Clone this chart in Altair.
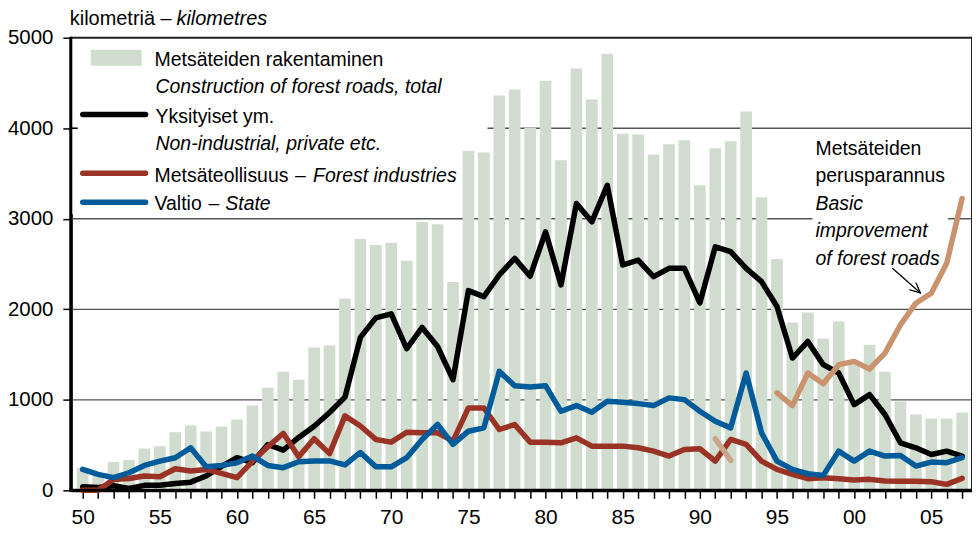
import altair as alt
import pandas as pd

years = list(range(1950, 2008))
total = [250, 190, 312, 334, 462, 488, 642, 716, 650, 705,
         782, 936, 1134, 1311, 1222, 1578, 1600, 2118, 2775, 2709,
         2735, 2536, 2963, 2940, 2302, 3748, 3733, 4361, 4427, 4005,
         4526, 3645, 4659, 4317, 4824, 3939, 3930, 3711, 3822, 3866,
         3370, 3778, 3855, 4185, 3238, 2555, 1854, 1964, 1677, 1865,
         1400, 1608, 1310, 980, 837, 793, 793, 859]
private = [40, 30, 50, 20, 55, 55, 75, 90, 158, 264,
           360, 305, 506, 444, 584, 708, 859, 1030, 1690, 1905,
           1949, 1564, 1799, 1589, 1222, 2206, 2140, 2379, 2563, 2365,
           2856, 2269, 3168, 2966, 3370, 2489, 2544, 2360, 2452, 2452,
           2070, 2690, 2636, 2452, 2305, 2030, 1461, 1645, 1388, 1296,
           947, 1057, 837, 525, 470, 396, 433, 378]
industry = [0, 0, 120, 130, 158, 150, 238, 213, 231, 187,
            140, 320, 480, 630, 370, 570, 405, 822, 710, 562,
            532, 642, 635, 635, 543, 910, 910, 672, 727, 532,
            532, 525, 580, 488, 488, 488, 470, 433, 378, 452,
            459, 323, 562, 507, 323, 231, 176, 128, 139, 128,
            114, 121, 103, 100, 100, 95, 66, 132]
state = [231, 176, 140, 194, 275, 323, 360, 470, 260, 275,
         305, 378, 275, 250, 315, 325, 325, 280, 418, 260,
         260, 360, 562, 727, 507, 653, 690, 1314, 1156, 1142,
         1156, 873, 936, 862, 983, 972, 958, 936, 1021, 1002,
         873, 763, 690, 1296, 635, 323, 231, 183, 165, 433,
         323, 433, 378, 385, 268, 312, 305, 360]
basic_years = list(range(1995, 2008))
basic = [1076, 936, 1296, 1178, 1388, 1424, 1340, 1516, 1828, 2067, 2177, 2508, 3224]
basic_early_years = [1991, 1992]
basic_early = [570, 330]
grid_values = [1000, 2000, 3000, 4000]
y_ticks = [0, 1000, 2000, 3000, 4000, 5000]
arrow_years = [2002.5, 2004.3]
arrow_km = [2450, 2180]
head_years = [2004.01, 2004.3, 2003.62]
head_km = [2290, 2180, 2213]

FONT = "Liberation Sans Narrow, Arial Narrow, Liberation Sans, Arial, sans-serif"
FS = 19.5
BAR = "#d0dccd"
BLACK = "#000000"
RED = "#9a3325"
BLUE = "#005b9a"
TAN = "#c9936f"
TAN2 = "#c9a58b"
LW = 5.5

xs = alt.Scale(domain=[1949.553, 2007.317], nice=False, zero=False)
ys = alt.Scale(domain=[0, 5000], nice=False, zero=True)

xaxis = alt.Axis(title=None, values=years,
                 labelExpr="datum.value % 5 == 0 ? format(datum.value % 100, '02d') : ''",
                 domainColor="black", domainWidth=3, tickColor="black", tickSize=8, tickWidth=1.5,
                 labelFontSize=21, labelPadding=8, labelColor="black", labelFont=FONT,
                 grid=False, labelOverlap=False)
yaxis = alt.Axis(title=None, values=y_ticks, format="d",
                 domainColor="black", domainWidth=3, tickColor="black", tickSize=8, tickWidth=1.5,
                 labelFontSize=20.5, labelPadding=10, labelColor="black", labelFont=FONT,
                 grid=False, labelOverlap=False)

X = alt.X("year:Q", scale=xs, axis=xaxis)
Y = alt.Y("km:Q", scale=ys, axis=yaxis)

one = pd.DataFrame({"a": [0]})

grid = alt.Chart(pd.DataFrame({"km": grid_values})).mark_rule(color="#555555", strokeWidth=1.3).encode(y=Y)

legend_box = alt.Chart(one).mark_rect(color="white").encode(
    x=alt.value(0), x2=alt.value(418), y=alt.value(0), y2=alt.value(177))
note_box = alt.Chart(one).mark_rect(color="white").encode(
    x=alt.value(744), x2=alt.value(880), y=alt.value(98), y2=alt.value(233))

bars = alt.Chart(pd.DataFrame({"year": years, "km": total})).mark_bar(color=BAR, size=11.7).encode(x=X, y=Y)


def series(xv, yv, color, width=LW):
    return alt.Chart(pd.DataFrame({"year": xv, "km": yv, "i": list(range(len(xv)))})).mark_line(
        color=color, strokeWidth=width, strokeCap="round", strokeJoin="round").encode(
        x=X, y=Y, order=alt.Order("i:Q"))


l_black = series(years, private, BLACK)
l_red = series(years, industry, RED)
l_blue = series(years, state, BLUE)
l_tan = series(basic_years, basic, TAN)
l_tan2 = series(basic_early_years, basic_early, TAN2)
arrow_line = series(arrow_years, arrow_km, BLACK, 1.3)
arrow_head = series(head_years, head_km, BLACK, 1.3)


def txt(s, x, y, italic=False, size=FS):
    return alt.Chart(one).mark_text(text=s, align="left", baseline="alphabetic", font=FONT, fontSize=size,
                                    fontStyle="italic" if italic else "normal", color="black").encode(
        x=alt.value(x), y=alt.value(y))


def swatch_line(color, y):
    return alt.Chart(one).mark_rule(color=color, strokeWidth=LW, strokeCap="round").encode(
        x=alt.value(12), x2=alt.value(75), y=alt.value(y))


swatch_bar = alt.Chart(one).mark_rect(color=BAR).encode(
    x=alt.value(20), x2=alt.value(71), y=alt.value(12), y2=alt.value(28))


def edge(x1, x2, y1, y2, color="black"):
    return alt.Chart(one).mark_rect(color=color).encode(
        x=alt.value(x1), x2=alt.value(x2), y=alt.value(y1), y2=alt.value(y2))


layers = [
    grid, legend_box, note_box, bars,
    l_black, l_red, l_blue, l_tan2, l_tan,
    swatch_bar, swatch_line(BLACK, 77), swatch_line(RED, 136), swatch_line(BLUE, 165),
    txt("Metsäteiden rakentaminen", 84, 28),
    txt("Construction of forest roads, total", 85, 55, italic=True),
    txt("Yksityiset ym.", 85, 86),
    txt("Non-industrial, private etc.", 85, 113, italic=True),
    txt("Metsäteollisuus", 84, 145),
    txt("–", 225, 145),
    txt("Forest industries", 243, 145, italic=True),
    txt("Valtio", 84, 173),
    txt("–", 138, 173),
    txt("State", 155, 173, italic=True),
    txt("kilometriä", -1, -13, size=20),
    txt("–", 90, -13, size=20),
    txt("kilometres", 106, -13, italic=True, size=20),
    txt("Metsäteiden", 747, 118),
    txt("perusparannus", 747, 145),
    txt("Basic", 747, 173, italic=True),
    txt("improvement", 747, 200, italic=True),
    txt("of forest roads", 747, 228, italic=True),
    arrow_line, arrow_head,
    edge(0, 905, -1, 1, "#222222"),
    edge(903, 905, -1, 454, "#222222"),
    edge(-1.5, 1.5, -1, 455.5),
    edge(-1.5, 905, 452.5, 455.5),
    edge(0, 7, 90, 91.6),
]

chart = alt.layer(*layers).properties(
    width=904, height=454,
    padding={"left": 63, "top": 29, "right": 0, "bottom": 40},
    autosize=alt.AutoSizeParams(type="none"),
).configure_view(stroke=None)

chart.save("out.html", embed_options={"renderer": "svg", "actions": False})
